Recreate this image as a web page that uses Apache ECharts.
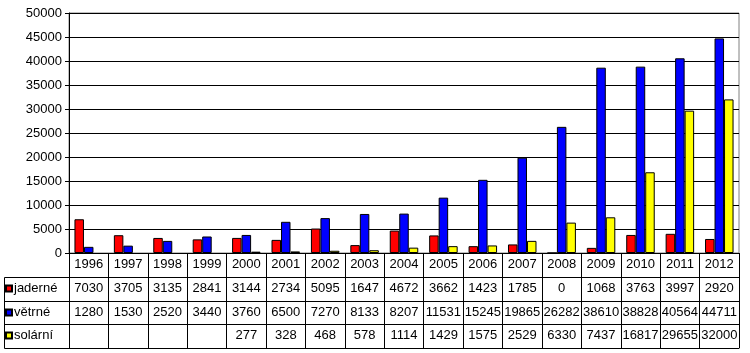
<!DOCTYPE html>
<html>
<head>
<meta charset="utf-8">
<script src="https://cdn.jsdelivr.net/npm/echarts@6/dist/echarts.min.js"></script>
<style>
  html, body { margin: 0; padding: 0; background: #fff; }
  #chart { width: 750px; height: 353px; }
</style>
</head>
<body>
<div id="chart"></div>
<script>
const years = ['1996', '1997', '1998', '1999', '2000', '2001', '2002', '2003', '2004',
  '2005', '2006', '2007', '2008', '2009', '2010', '2011', '2012'];
const jaderne = [7030, 3705, 3135, 2841, 3144, 2734, 5095, 1647, 4672, 3662, 1423, 1785, 0, 1068, 3763, 3997, 2920];
const vetrne = [1280, 1530, 2520, 3440, 3760, 6500, 7270, 8133, 8207, 11531, 15245, 19865, 26282, 38610, 38828, 40564, 44711];
const solarni = [null, null, null, null, 277, 328, 468, 578, 1114, 1429, 1575, 2529, 6330, 7437, 16817, 29655, 32000];

const FONT = 'Liberation Sans';
const FS = 13;
const chart = echarts.init(document.getElementById('chart'));

const asText = arr => arr.map(v => (v == null ? '' : String(v)));

// one category axis per table row, stacked below the plot with offset
function tableAxis(labels, offset, tickLen) {
  return {
    type: 'category',
    data: labels,
    position: 'bottom',
    offset: offset,
    boundaryGap: true,
    axisLine: { show: true, lineStyle: { color: '#000', width: 1 } },
    axisTick: { show: tickLen > 0, interval: 0, length: tickLen, lineStyle: { color: '#000', width: 1 } },
    axisLabel: { show: true, interval: 0, margin: 5, color: '#000', fontFamily: FONT, fontSize: FS },
    splitLine: { show: false }
  };
}

function legendRow(name, top) {
  return {
    data: [name],
    left: 5,
    top: top,
    padding: 0,
    icon: 'rect',
    itemWidth: 6,
    itemHeight: 6,
    selectedMode: false,
    textStyle: { color: '#000', fontFamily: FONT, fontSize: FS, padding: [0, 0, 0, -3] }
  };
}

const barStyle = color => ({ color: color, borderColor: '#000', borderWidth: 1 });

chart.setOption({
  animation: false,
  backgroundColor: '#fff',
  grid: {
    left: 69, right: 11, top: 13, bottom: 100,
    show: true, borderColor: '#808080', borderWidth: 1, backgroundColor: '#fff'
  },
  legend: [
    legendRow('jaderné', 282),
    legendRow('větrné', 306),
    legendRow('solární', 329)
  ],
  xAxis: [
    tableAxis(years, 0, 24),
    tableAxis(asText(jaderne), 24, 24),
    tableAxis(asText(vetrne), 48, 23),
    tableAxis(asText(solarni), 71, 24),
    Object.assign(tableAxis(years, 95, 0), { axisLabel: { show: false } })
  ],
  yAxis: {
    type: 'value',
    min: 0,
    max: 50000,
    interval: 5000,
    axisLine: { show: true, lineStyle: { color: '#000' } },
    axisTick: { show: true, length: 4, lineStyle: { color: '#000' } },
    axisLabel: { color: '#000', fontFamily: FONT, fontSize: FS, margin: 7, formatter: v => String(v) },
    splitLine: { lineStyle: { color: '#000', width: 1 } }
  },
  graphic: [
    {
      type: 'group',
      silent: true,
      children: [
        { type: 'rect', shape: { x: 4.5, y: 277.5, width: 65, height: 71 }, style: { fill: 'none', stroke: '#000', lineWidth: 1 } },
        { type: 'line', shape: { x1: 4.5, y1: 301.5, x2: 69.5, y2: 301.5 }, style: { stroke: '#000', lineWidth: 1 } },
        { type: 'line', shape: { x1: 4.5, y1: 324.5, x2: 69.5, y2: 324.5 }, style: { stroke: '#000', lineWidth: 1 } }
      ]
    }
  ],
  series: [
    { name: 'jaderné', type: 'bar', data: jaderne, barWidth: 9.5, barGap: '0%', itemStyle: barStyle('#ff0000') },
    { name: 'větrné', type: 'bar', data: vetrne, barWidth: 9.5, barGap: '0%', itemStyle: barStyle('#0000ff') },
    { name: 'solární', type: 'bar', data: solarni, barWidth: 9.5, barGap: '0%', itemStyle: barStyle('#ffff00') }
  ]
});
</script>
</body>
</html>
